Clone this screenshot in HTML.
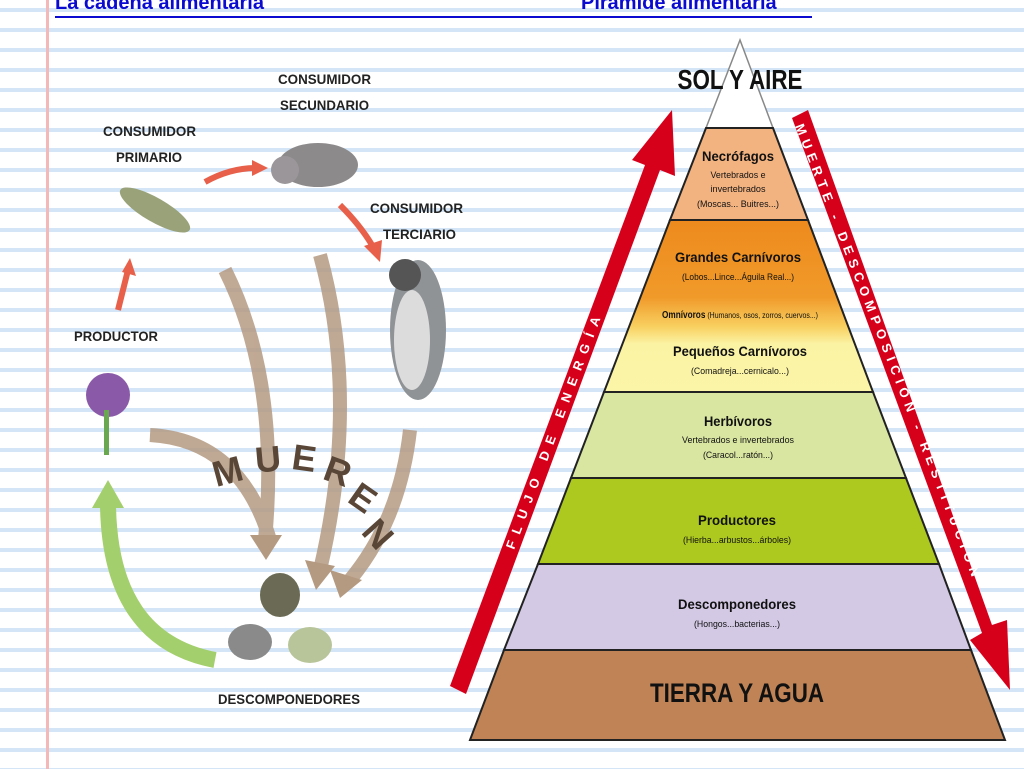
<!DOCTYPE html>
<html><head><meta charset="utf-8"><style>
html,body{margin:0;padding:0;}
body{width:1024px;height:769px;overflow:hidden;position:relative;background:#fff;
background-image:repeating-linear-gradient(to bottom,transparent 0,transparent 8px,#d3e5f6 8px,#d3e5f6 12px,transparent 12px,transparent 20px);}
.margin{position:absolute;left:46px;top:0;width:3px;height:769px;background:#f4b8b8;}
.t{position:absolute;top:-8px;font:bold 20px "Liberation Sans",sans-serif;color:#0a0ad0;}
.ul{position:absolute;left:55px;top:16px;width:757px;height:2px;background:#0a0ad0;}
svg{position:absolute;left:0;top:0;}
</style></head><body>
<div class="margin"></div>
<div class="t" style="left:55px">La cadena alimentaria</div>
<div class="t" style="left:581px">Pirámide alimentaria</div>
<div class="ul"></div>
<svg width="1024" height="769" viewBox="0 0 1024 769" font-family="Liberation Sans, sans-serif">
<defs>
<linearGradient id="og" x1="0" y1="220" x2="0" y2="392" gradientUnits="userSpaceOnUse">
<stop offset="0" stop-color="#ee8a1e"/><stop offset="0.45" stop-color="#f09a2a"/><stop offset="0.62" stop-color="#f8d060"/><stop offset="0.72" stop-color="#fbf3a4"/><stop offset="1" stop-color="#fbf5a8"/></linearGradient>
</defs>
<g font-weight="bold" font-size="14" fill="#222">
<text x="278" y="84" textLength="93" lengthAdjust="spacingAndGlyphs">CONSUMIDOR</text><text x="280" y="110" textLength="89" lengthAdjust="spacingAndGlyphs">SECUNDARIO</text>
<text x="103" y="136" textLength="93" lengthAdjust="spacingAndGlyphs">CONSUMIDOR</text><text x="116" y="162" textLength="66" lengthAdjust="spacingAndGlyphs">PRIMARIO</text>
<text x="370" y="213" textLength="93" lengthAdjust="spacingAndGlyphs">CONSUMIDOR</text><text x="383" y="239" textLength="73" lengthAdjust="spacingAndGlyphs">TERCIARIO</text>
<text x="74" y="341" textLength="84" lengthAdjust="spacingAndGlyphs">PRODUCTOR</text>
<text x="218" y="704" textLength="142" lengthAdjust="spacingAndGlyphs">DESCOMPONEDORES</text>
</g>
<g fill="none" stroke="#b59a82" stroke-width="14" opacity="0.85">
<path d="M225,270 Q280,380 265,540"/>
<path d="M320,255 Q360,400 320,570"/>
<path d="M150,435 Q240,440 270,540"/>
<path d="M410,430 Q400,520 350,580"/>
</g>
<g fill="#b59a82">
<polygon points="250,535 282,535 266,560"/>
<polygon points="305,560 335,566 316,590"/>
<polygon points="330,570 362,580 340,598"/>
</g>
<g fill="none" stroke="#e8604a" stroke-width="6">
<path d="M205,182 Q230,168 256,168"/><path d="M340,205 Q360,225 372,245"/><path d="M118,310 L128,270"/>
</g>
<g fill="#e8604a"><polygon points="252,160 268,168 252,176"/><polygon points="364,246 380,262 382,240"/><polygon points="122,272 130,258 136,276"/></g>
<path d="M215,660 Q110,640 108,505" fill="none" stroke="#a3cf6c" stroke-width="16"/>
<polygon points="92,508 108,480 124,508" fill="#a3cf6c"/>
<g font-size="36" font-weight="bold" fill="#5a4636">
<text x="212" y="485" transform="rotate(-15 222 470)">M</text>
<text x="255" y="472" transform="rotate(-5 262 460)">U</text>
<text x="292" y="470" transform="rotate(8 300 460)">E</text>
<text x="325" y="482" transform="rotate(20 333 470)">R</text>
<text x="352" y="508" transform="rotate(35 360 495)">E</text>
<text x="368" y="545" transform="rotate(48 378 530)">N</text>
</g>
<ellipse cx="155" cy="210" rx="40" ry="12" fill="#9aa27a" transform="rotate(30 155 210)"/>
<ellipse cx="318" cy="165" rx="40" ry="22" fill="#8d8a8c"/>
<circle cx="285" cy="170" r="14" fill="#9a9699"/>
<ellipse cx="418" cy="330" rx="28" ry="70" fill="#8f9396"/>
<ellipse cx="412" cy="340" rx="18" ry="50" fill="#dcdcdc"/>
<circle cx="405" cy="275" r="16" fill="#555"/>
<circle cx="108" cy="395" r="22" fill="#8a5aa8"/>
<rect x="104" y="410" width="5" height="45" fill="#6aa84f"/>
<ellipse cx="280" cy="595" rx="20" ry="22" fill="#6b6b55"/>
<ellipse cx="250" cy="642" rx="22" ry="18" fill="#8a8a8a"/>
<ellipse cx="310" cy="645" rx="22" ry="18" fill="#b8c49a"/>
<g stroke="#222" stroke-width="2">
<polygon points="740,40 706,128 773,128" fill="#fff" stroke="#888" stroke-width="1.5"/>
<polygon points="706,128 773,128 808,220 670,220" fill="#f3b380"/>
<polygon points="670,220 808,220 873,392 604,392" fill="url(#og)"/>
<polygon points="604,392 873,392 906,478 571,478" fill="#d9e6a1"/>
<polygon points="571,478 906,478 939,564 538,564" fill="#adc91f"/>
<polygon points="538,564 939,564 971,650 504,650" fill="#d3c9e5"/>
<polygon points="504,650 971,650 1005,740 470,740" fill="#bf8356"/>
</g>
<text x="740" y="89" text-anchor="middle" font-size="28" font-weight="bold" fill="#111" textLength="125" lengthAdjust="spacingAndGlyphs">SOL Y AIRE</text>
<g text-anchor="middle" fill="#111">
<text x="738" y="161" font-size="14" font-weight="bold" textLength="72" lengthAdjust="spacingAndGlyphs">Necrófagos</text>
<text x="738" y="178" font-size="9.5" textLength="55" lengthAdjust="spacingAndGlyphs">Vertebrados e</text>
<text x="738" y="192" font-size="9.5" textLength="55" lengthAdjust="spacingAndGlyphs">invertebrados</text>
<text x="738" y="207" font-size="9.5" textLength="82" lengthAdjust="spacingAndGlyphs">(Moscas... Buitres...)</text>
<text x="738" y="262" font-size="14" font-weight="bold" textLength="126" lengthAdjust="spacingAndGlyphs">Grandes Carnívoros</text>
<text x="738" y="280" font-size="9.5" textLength="112" lengthAdjust="spacingAndGlyphs">(Lobos...Lince...Águila Real...)</text>
<text x="740" y="318" font-size="8.5" textLength="156" lengthAdjust="spacingAndGlyphs"><tspan font-weight="bold" font-size="10">Omnívoros</tspan> (Humanos, osos, zorros, cuervos...)</text>
<text x="740" y="356" font-size="14" font-weight="bold" textLength="134" lengthAdjust="spacingAndGlyphs">Pequeños Carnívoros</text>
<text x="740" y="374" font-size="9.5" textLength="98" lengthAdjust="spacingAndGlyphs">(Comadreja...cernicalo...)</text>
<text x="738" y="426" font-size="14" font-weight="bold" textLength="68" lengthAdjust="spacingAndGlyphs">Herbívoros</text>
<text x="738" y="443" font-size="9.5" textLength="112" lengthAdjust="spacingAndGlyphs">Vertebrados e invertebrados</text>
<text x="738" y="458" font-size="9.5" textLength="70" lengthAdjust="spacingAndGlyphs">(Caracol...ratón...)</text>
<text x="737" y="525" font-size="14" font-weight="bold" textLength="78" lengthAdjust="spacingAndGlyphs">Productores</text>
<text x="737" y="543" font-size="9.5" textLength="108" lengthAdjust="spacingAndGlyphs">(Hierba...arbustos...árboles)</text>
<text x="737" y="609" font-size="14" font-weight="bold" textLength="118" lengthAdjust="spacingAndGlyphs">Descomponedores</text>
<text x="737" y="627" font-size="9.5" textLength="86" lengthAdjust="spacingAndGlyphs">(Hongos...bacterias...)</text>
<text x="737" y="702" font-size="27" font-weight="bold" textLength="174" lengthAdjust="spacingAndGlyphs">TIERRA Y AGUA</text>
</g>
<polygon points="450,686 466,694 660,170 675,176 672,110 632,160 645,165" fill="#d7001b"/>
<text transform="translate(514,550) rotate(-69.5)" font-size="13" font-weight="bold" fill="#fff" letter-spacing="8">FLUJO DE ENERGÍA</text>
<polygon points="792,118 808,110 992,625 1007,620 1010,690 970,640 982,633" fill="#d7001b"/>
<text transform="translate(795,126) rotate(68.6)" font-size="13" font-weight="bold" fill="#fff" letter-spacing="5.5">MUERTE - DESCOMPOSICIÓN - RESTITUCIÓN</text>
</svg>
</body></html>
